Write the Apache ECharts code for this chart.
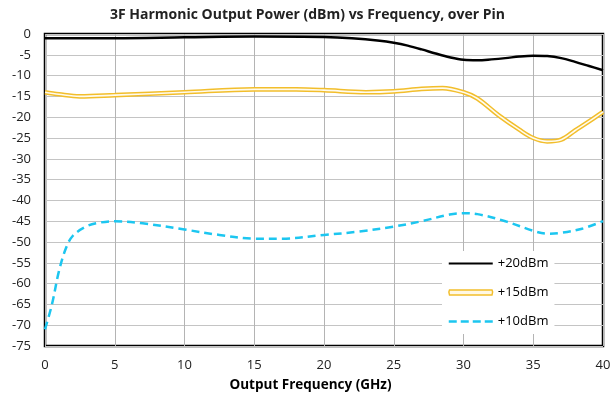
<!DOCTYPE html>
<html><head><meta charset="utf-8">
<script src="https://cdn.jsdelivr.net/npm/echarts@6/dist/echarts.min.js"></script>
<style>html,body{margin:0;padding:0;background:#fff}#c{width:615px;height:402px}</style>
</head><body><div id="c"></div>
<script>
const xTicks = [0,5,10,15,20,25,30,35,40];
const yTicks = [0,-5,-10,-15,-20,-25,-30,-35,-40,-45,-50,-55,-60,-65,-70,-75];

const freq20 = [0,5,10,15,20,22,24,25,26,27,28,29,30,31,32,33,34,35,36,37,38,39,40];
const pout20 = [-1.0,-1.0,-0.8,-0.6,-0.7,-1.0,-1.6,-2.1,-2.8,-3.7,-4.7,-5.6,-6.2,-6.3,-6.1,-5.8,-5.4,-5.2,-5.3,-5.8,-6.7,-7.7,-8.7];

const freq15 = [0,1,2.5,5,10,15,18,20,23,25,27,28.5,30,31,32.5,34,35,36,37,38,39,40];
const pout15 = [-14.0,-14.5,-15.0,-14.7,-14.0,-13.3,-13.3,-13.5,-14.0,-13.8,-13.2,-13.0,-14.0,-15.5,-19.5,-23.0,-25.0,-25.8,-25.4,-23.2,-21.0,-18.7];

const freq10 = [0,0.5,1,1.5,2,3,4,5,7,10,12.5,15,17,20,22.5,25,27,29,30,31,33,35,36,37,38.5,40];
const pout10 = [-71,-65,-57,-51.5,-48.5,-46.2,-45.3,-45,-45.5,-47,-48.3,-49.2,-49.2,-48.3,-47.5,-46.3,-45,-43.4,-43.1,-43.3,-45,-47.3,-48,-47.8,-46.8,-45];

const names = ['+20dBm','+15dBm','+10dBm'];
const pair = (xs, ys) => xs.map((x,i)=>[x, ys[i]]);
const FONT = 'Open Sans';

const chart = echarts.init(document.getElementById('c'), null, {renderer:'canvas'});
chart.setOption({
  animation:false,
  backgroundColor:'#fff',
  title:{text:'3F Harmonic Output Power (dBm) vs Frequency, over Pin', left:'center', top:3,
    textStyle:{fontFamily:FONT, fontWeight:'bold', fontSize:14, color:'#222'}},
  grid:{left:45, right:12, top:34, bottom:56, show:true, borderColor:'#000', borderWidth:2.5, backgroundColor:'transparent'},
  xAxis:{type:'value', min:xTicks[0], max:xTicks[xTicks.length-1], interval:5,
    name:'Output Frequency (GHz)', nameLocation:'middle', nameGap:32,
    nameTextStyle:{fontFamily:FONT, fontWeight:'bold', fontSize:13.5, color:'#000', padding:[0,27,0,0]},
    axisLine:{show:false}, axisTick:{show:false},
    axisLabel:{fontFamily:FONT, fontSize:13, color:'#222', margin:13},
    splitLine:{show:true, lineStyle:{color:'#B4B4B4', width:1}}},
  yAxis:{type:'value', min:yTicks[yTicks.length-1], max:yTicks[0], interval:5,
    axisLine:{show:false}, axisTick:{show:false},
    axisLabel:{fontFamily:FONT, fontSize:13, color:'#222', margin:14},
    splitLine:{show:true, lineStyle:{color:'#C4C4C4', width:1.2}}},
  legend:{orient:'vertical', left:442, top:251, backgroundColor:'#fff', padding:[6,6,6,6],
    itemWidth:44, itemHeight:14, itemGap:16,
    textStyle:{fontFamily:FONT, fontSize:13, color:'#000'},
    data:[
      {name:names[0], icon:'path://M0,6 L44,6 L44,8 L0,8 Z', itemStyle:{color:'#000'}},
      {name:names[1], icon:'path://M1,4.5 L43,4.5 Q44.5,7 43,9.5 L1,9.5 Q-0.5,7 1,4.5 Z', itemStyle:{color:'#FFF8E4', borderColor:'#F2BE2C', borderWidth:1.5}},
      {name:names[2], icon:'path://M0,6 L8,6 L8,8.5 L0,8.5 Z M12,6 L20,6 L20,8.5 L12,8.5 Z M24,6 L32,6 L32,8.5 L24,8.5 Z M36,6 L44,6 L44,8.5 L36,8.5 Z', itemStyle:{color:'#1CC6F0'}}
    ]},
  series:[
    {name:names[0], type:'line', data:pair(freq20,pout20), smooth:0.35, symbol:'none',
      lineStyle:{color:'#000', width:2.5}, itemStyle:{color:'#000'}, z:5},
    {name:names[1], type:'line', data:pair(freq15,pout15), smooth:0.35, symbol:'none',
      lineStyle:{color:'#F2BE2C', width:4.6}, itemStyle:{color:'#F2BE2C'}, z:3},
    {name:'inner15', type:'line', data:pair(freq15,pout15), smooth:0.35, symbol:'none',
      lineStyle:{color:'#FFFBEE', width:1.6}, z:4, silent:true},
    {name:names[2], type:'line', data:pair(freq10,pout10), smooth:0.35, symbol:'none',
      lineStyle:{color:'#1CC6F0', width:2.5, type:[8,5]}, itemStyle:{color:'#1CC6F0'}, z:3}
  ]
});
</script></body></html>
